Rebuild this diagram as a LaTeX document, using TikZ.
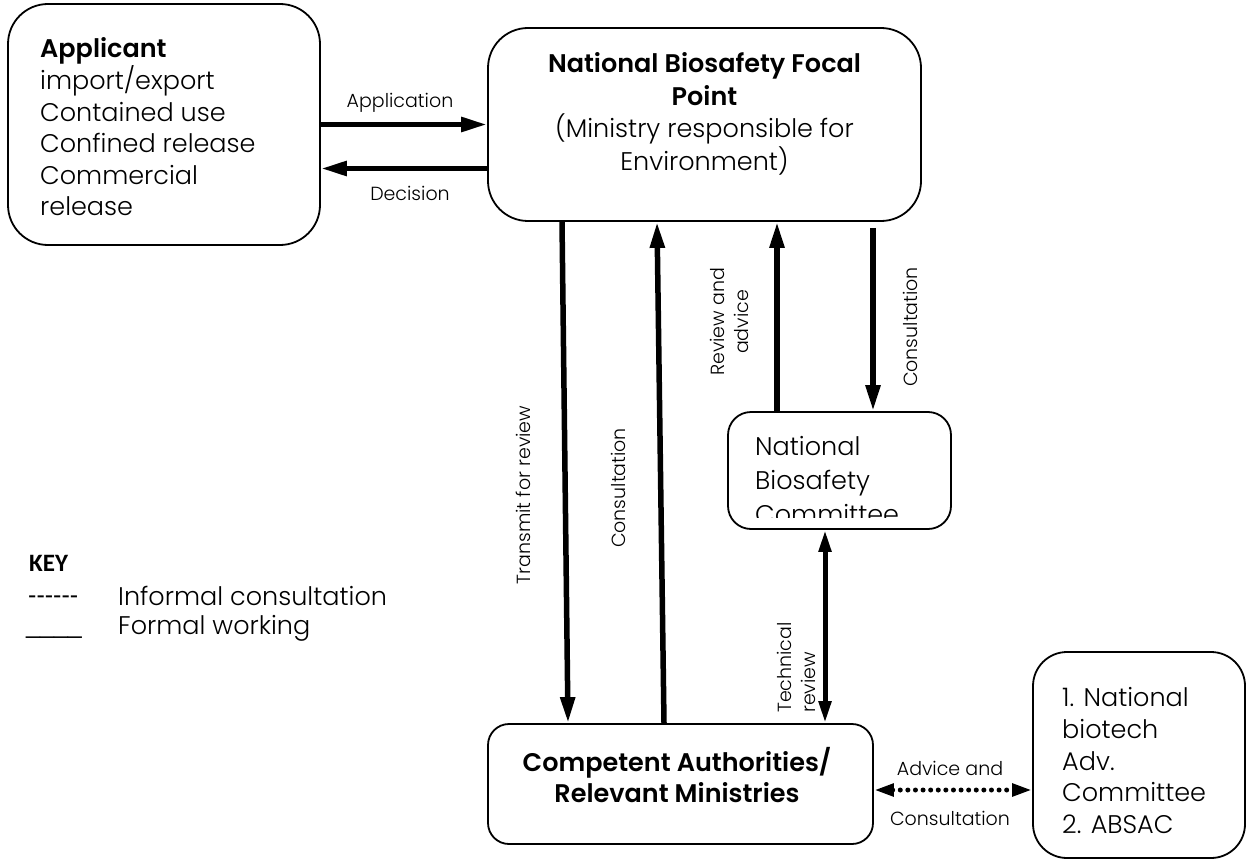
\documentclass[tikz,border=0pt]{standalone}
\usepackage{fontspec}
\IfFontExistsTF{Poppins Light}
  {\IfFontExistsTF{Poppins SemiBold}
     {\setmainfont{Poppins Light}[BoldFont=Poppins SemiBold]}
     {\setmainfont{Poppins Light}[BoldFont=Poppins Bold]}}
  {\setmainfont{Poppins}}
\newfontfamily\keyfont{Carlito}
\newfontfamily\markfont{Liberation Sans}[Ligatures=NoCommon]
\usetikzlibrary{arrows.meta}
\begin{document}
\begin{tikzpicture}[x=1pt,y=-1pt,
  box/.style={draw, line width=1.8pt, rounded corners=#1, inner sep=0pt},
  box/.default=22pt,
  body/.style={font=\fontsize{25.5}{31.6}\selectfont, inner sep=0pt},
  lbl/.style={font=\fontsize{19}{24}\selectfont, inner sep=0pt},
  flow/.style={line width=5.5pt, -{Triangle[length=26pt,width=14pt]}},
  both/.style={line width=5pt, {Triangle[length=22pt,width=12pt]}-{Triangle[length=22pt,width=12pt]}},
  dotlink/.style={line width=5pt, line cap=round, dash pattern=on 0pt off 7.6pt,
    {Triangle[length=20pt,width=12pt]}-{Triangle[length=20pt,width=12pt]}}
]
\fill[white] (0,0) rectangle (1246,861);
\useasboundingbox (0,0) rectangle (1246,861);

% boxes
\node[box=40pt, minimum width=312pt, minimum height=241pt] (app) at (164,124.5) {};
\node[box=40pt, minimum width=433pt, minimum height=193pt] (nbfp) at (704.5,124.5) {};
\node[box=23pt, minimum width=223pt, minimum height=117pt] (nbc) at (839.5,470.5) {};
\node[box=21pt, minimum width=385pt, minimum height=120pt] (ca) at (680.5,784) {};
\node[box=34pt, minimum width=212pt, minimum height=206pt] (adv) at (1139,755) {};

% box texts
\node[body, anchor=west, align=left] (apptext) at (40,127)
  {\textbf{Applicant}\\import/export\\Contained use\\Confined release\\Commercial\\release};
\node[body, align=center, font=\fontsize{25.5}{32.6}\selectfont] (nbfptext) at (704.5,114)
  {\textbf{National Biosafety Focal}\\\textbf{Point}\\(Ministry responsible for\\Environment)};
\begin{scope}
  \clip (728,412) rectangle (951,517);
  \node[body, anchor=west, align=left, font=\fontsize{25.5}{33.6}\selectfont] (nbctext) at (755,480)
    {National\\Biosafety\\Committee};
\end{scope}
\node[body, align=center] (catext) at (677,775)
  {\textbf{Competent Authorities/}\\\textbf{Relevant Ministries}};
\node[body, anchor=west, align=left] (advtext) at (1062,760.5)
  {1. National\\biotech\\Adv.\\Committee\\2. ABSAC};

% connectors
\draw[flow] (app.east) -- (nbfp.west);
\draw[flow] ([yshift=-44pt]nbfp.west) -- ([yshift=-44pt]app.east);
\draw[flow] ([xshift=-142.5pt]nbfp.south) -- ([xshift=-112.5pt]ca.north);
\draw[flow] ([xshift=-16.5pt]ca.north) -- ([xshift=-47.5pt]nbfp.south);
\draw[flow] ([xshift=-62.5pt]nbc.north) -- ([xshift=72.5pt]nbfp.south);
\draw[flow] ([xshift=168.5pt,yshift=-6pt]nbfp.south) -- ([xshift=33.5pt]nbc.north);
\draw[both] ([xshift=-14.5pt]nbc.south) -- ([xshift=144.5pt]ca.north);
\draw[dotlink] ([yshift=-6pt]ca.east) -- ([yshift=-35pt]adv.west);

% connector labels
\node[lbl] (lapp) at (400,103) {Application};
\node[lbl] (ldec) at (410,193) {Decision};
\node[lbl, rotate=90] (ltrans) at (523,495) {Transmit for review};
\node[lbl, rotate=90] (lcons1) at (618,488) {Consultation};
\node[lbl, rotate=90, align=center] (lrev) at (729,322) {Review and\\advice};
\node[lbl, rotate=90] (lcons2) at (910,327) {Consultation};
\node[lbl, rotate=90, align=left, anchor=north west] (ltech) at (777,713) {Technical\\review};
\node[lbl] (ladv) at (950,768) {Advice and};
\node[lbl] (lcons3) at (950,818) {Consultation};

% key
\node[font=\keyfont\bfseries\fontsize{25}{28}\selectfont, anchor=west, inner sep=0pt] (key) at (29,563) {KEY};
\node[font=\markfont\fontsize{25}{28}\selectfont, anchor=west, inner sep=0pt] (k1) at (28,600) {------};
\node[body, anchor=west] (k1t) at (118,596) {Informal consultation};
\node[font=\markfont\fontsize{25}{28}\selectfont, anchor=west, inner sep=0pt] (k2) at (26,636) {\_\_\_\_};
\node[body, anchor=west] (k2t) at (118,628) {Formal working};
\end{tikzpicture}
\end{document}
